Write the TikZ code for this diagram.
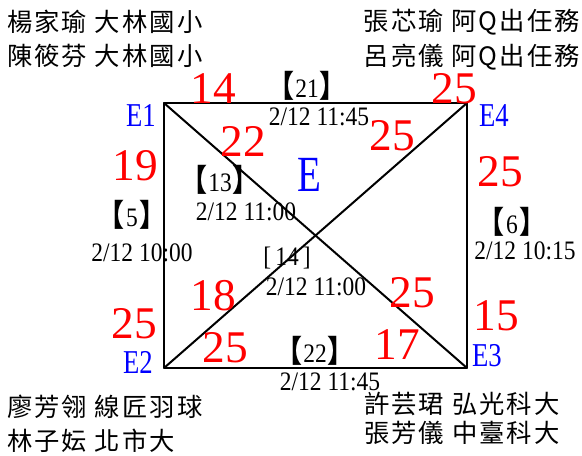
\documentclass[tikz,border=0pt]{standalone}
\usepackage{fontspec}
\usepackage{graphicx}
\setmainfont{Liberation Serif}
\newfontfamily\cjk[LetterSpace=8]{Noto Sans CJK TC}
\newfontfamily\cjkb{Noto Sans CJK TC}
\newcommand\lbk{{\cjkb\bfseries\fontsize{23pt}{23pt}\selectfont 【}\hspace{1pt}}
\newcommand\rbk{\hspace{1pt}{\cjkb\bfseries\fontsize{23pt}{23pt}\selectfont 】}}
\newcommand\narrowtxt[2]{\scalebox{#1}[1]{#2}}
\tikzset{
  person/.style={inner sep=0pt, font=\cjk\fontsize{19pt}{19pt}\selectfont},
  rednum/.style={inner sep=0pt, text=red, font=\fontsize{34pt}{34pt}\selectfont},
  cornerlbl/.style={inner sep=0pt, text=blue, font=\fontsize{25pt}{25pt}\selectfont},
  datelbl/.style={inner sep=0pt, font=\fontsize{20pt}{20pt}\selectfont},
  sqline/.style={line width=1.5pt, line cap=round, line join=round}
}
\begin{document}
\begin{tikzpicture}[x=0.75pt,y=-0.75pt]
\useasboundingbox (0,0) rectangle (582,455);
% corners
\coordinate (c1) at (164,103);
\coordinate (c4) at (467,103);
\coordinate (c2) at (164,368);
\coordinate (c3) at (467,368);
\draw[sqline] (c1) -- (c4) -- (c3) -- (c2) -- cycle;
\draw[sqline] (c1) -- (c3);
\draw[sqline] (c4) -- (c2);
% people
\node[person, anchor=west] (p1) at (7,22) {楊家瑜 大林國小};
\node[person, anchor=west] (p2) at (7,56) {陳筱芬 大林國小};
\node[person, anchor=east] (p3) at (580,22) {張芯瑜 阿Q出任務};
\node[person, anchor=east] (p4) at (580,57) {呂亮儀 阿Q出任務};
\node[person, anchor=west] (p5) at (7,407) {廖芳翎 線匠羽球};
\node[person, anchor=west] (p6) at (7,441) {林子妘 北市大};
\node[person, anchor=west] (p7) at (364,404) {許芸珺 弘光科大};
\node[person, anchor=west] (p8) at (364,433) {張芳儀 中臺科大};
% corner labels
\node[cornerlbl] (e1) at (141,115) {\narrowtxt{0.8}{E1}};
\node[cornerlbl] (e4) at (494,116) {\narrowtxt{0.8}{E4}};
\node[cornerlbl] (e2) at (138,362) {\narrowtxt{0.8}{E2}};
\node[cornerlbl] (e3) at (487,356) {\narrowtxt{0.8}{E3}};
\node[cornerlbl, font=\fontsize{38pt}{38pt}\selectfont] (ee) at (309,175) {\narrowtxt{0.77}{E}};
% red numbers
\node[rednum] (n14) at (213,89) {14};
\node[rednum] (n25a) at (454,89) {25};
\node[rednum] (n22) at (243,141) {22};
\node[rednum] (n25b) at (392,136) {25};
\node[rednum] (n19) at (135,166) {19};
\node[rednum] (n25c) at (500,172) {25};
\node[rednum] (n18) at (213,296) {18};
\node[rednum] (n25d) at (225,348) {25};
\node[rednum] (n25e) at (412,293) {25};
\node[rednum] (n17) at (397,345) {17};
\node[rednum] (n25f) at (134,324) {25};
\node[rednum] (n15) at (496,316) {15};
% match labels
\node[datelbl] (g21) at (307,86) {\narrowtxt{0.88}{\lbk 21\rbk}};
\node[datelbl] (d21) at (319,117) {\narrowtxt{0.88}{2/12 11:45}};
\node[datelbl] (g13) at (220,180) {\narrowtxt{0.88}{\lbk 13\rbk}};
\node[datelbl] (d13) at (246,212) {\narrowtxt{0.88}{2/12 11:00}};
\node[datelbl] (g5) at (132,215) {\narrowtxt{0.88}{\lbk 5\rbk}};
\node[datelbl] (d5) at (142,253) {\narrowtxt{0.88}{2/12 10:00}};
\node[datelbl] (g6) at (512,222) {\narrowtxt{0.88}{\lbk 6\rbk}};
\node[datelbl] (d6) at (525,251) {\narrowtxt{0.88}{2/12 10:15}};
\node[datelbl] (g14) at (287,258) {\narrowtxt{0.88}{[\hspace{3.5pt}14\hspace{3.5pt}]}};
\node[datelbl] (d14) at (316,287) {\narrowtxt{0.88}{2/12 11:00}};
\node[datelbl] (g22) at (315,351) {\narrowtxt{0.88}{\lbk 22\rbk}};
\node[datelbl] (d22) at (330,382) {\narrowtxt{0.88}{2/12 11:45}};
\end{tikzpicture}
\end{document}
